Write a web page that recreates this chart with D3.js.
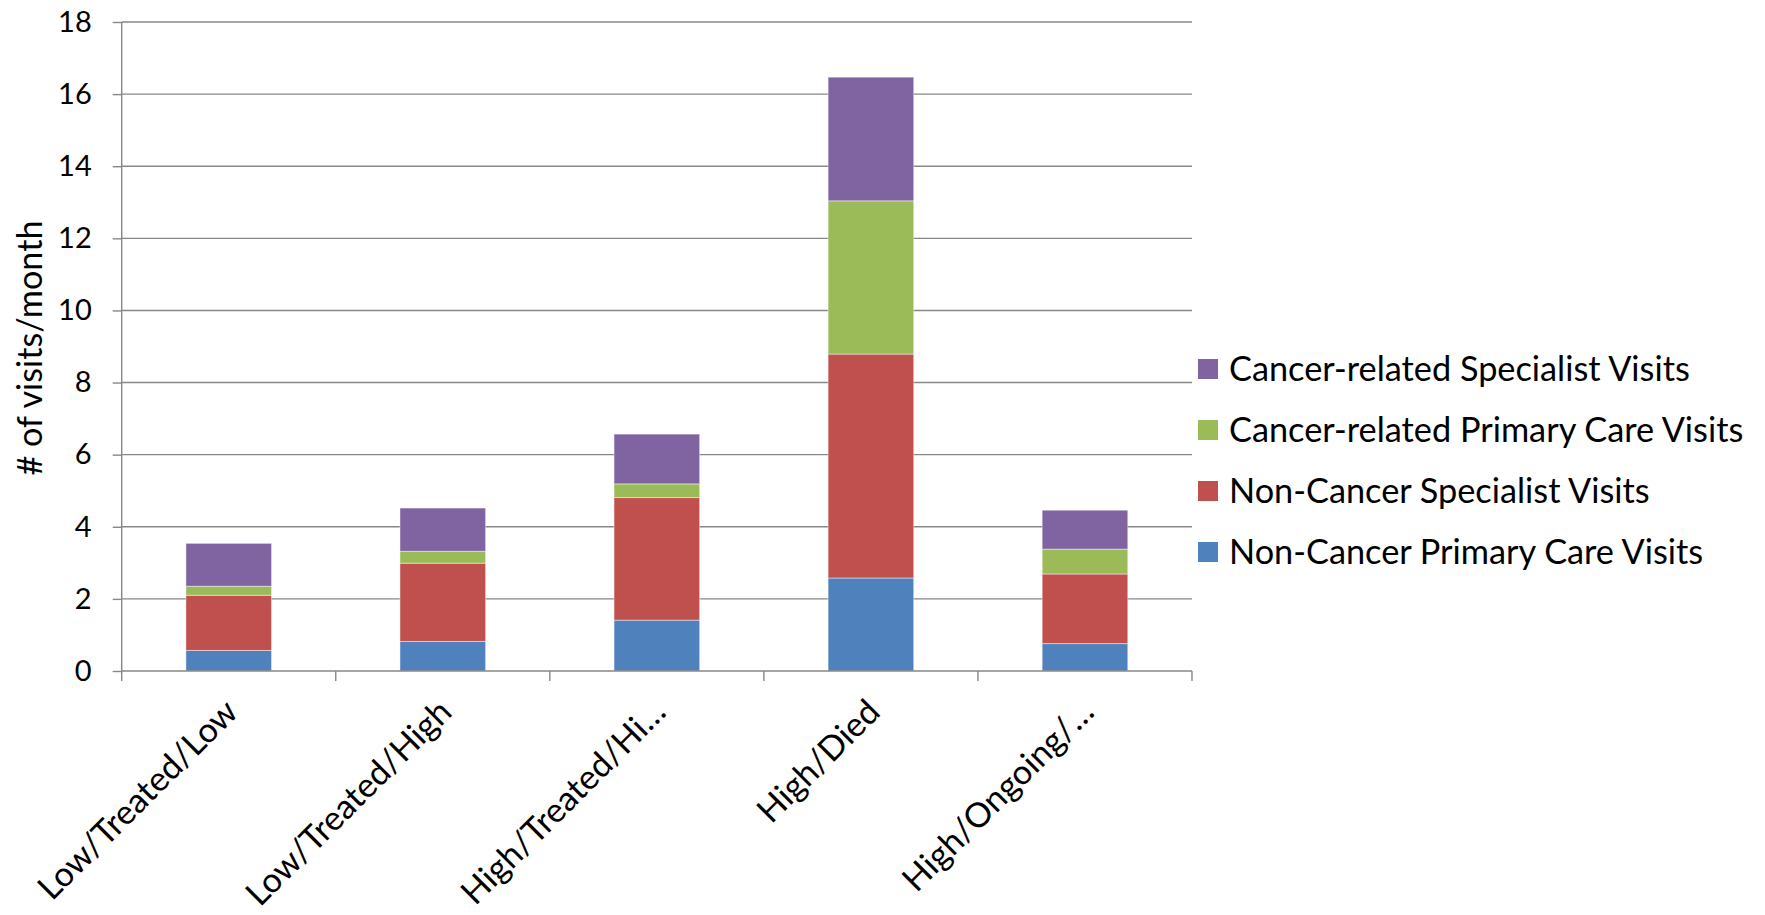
<!DOCTYPE html>
<html>
<head>
<meta charset="utf-8">
<script src="https://cdn.jsdelivr.net/npm/d3@7"></script>
<style>
  html, body { margin: 0; padding: 0; background: #fff; }
  svg { display: block; }
  text { font-family: Lato, "Open Sans", sans-serif; fill: #000; }
</style>
</head>
<body>
<script>
// Monthly visit counts per patient group, stacked by visit type
const categories = ["Low/Treated/Low", "Low/Treated/High", "High/Treated/Hi\u2026", "High/Died", "High/Ongoing/\u2026"];
const seriesNames = [
  "Non-Cancer Primary Care Visits",
  "Non-Cancer Specialist Visits",
  "Cancer-related Primary Care Visits",
  "Cancer-related Specialist Visits"
];
const nonCancerPrimary    = [0.57, 0.82, 1.41, 2.58, 0.76];
const nonCancerSpecialist = [1.53, 2.17, 3.40, 6.21, 1.93];
const cancerPrimary       = [0.25, 0.33, 0.38, 4.25, 0.69];
const cancerSpecialist    = [1.19, 1.20, 1.38, 3.43, 1.08];
const yTicks = [0, 2, 4, 6, 8, 10, 12, 14, 16, 18];
const yTitle = "# of visits/month";

const seriesValues = [nonCancerPrimary, nonCancerSpecialist, cancerPrimary, cancerSpecialist];
const colors = ["#4F81BD", "#C0504D", "#9BBB59", "#8064A2"];

const W = 1765, H = 915;
const plot = { left: 121.7, right: 1192, top: 22, bottom: 671 };

const svg = d3.select("body").append("svg").attr("width", W).attr("height", H);

const rows = categories.map((c, i) => {
  const r = { category: c };
  seriesNames.forEach((s, k) => { r[s] = seriesValues[k][i]; });
  return r;
});
const stacked = d3.stack().keys(seriesNames)(rows);

const x = d3.scaleBand().domain(categories).range([plot.left, plot.right]).paddingInner(0.6).paddingOuter(0.3);
const xOuter = d3.scaleBand().domain(categories).range([plot.left, plot.right]);
const y = d3.scaleLinear().domain([0, 18]).range([plot.bottom, plot.top]);

const gridColor = "#878787";

// horizontal gridlines
svg.append("g").selectAll("line").data(yTicks.filter(t => t > 0)).join("line")
  .attr("x1", plot.left).attr("x2", plot.right)
  .attr("y1", d => y(d)).attr("y2", d => y(d))
  .attr("stroke", gridColor).attr("stroke-width", 1.4);

// stacked bars
svg.append("g").selectAll("g").data(stacked).join("g")
  .attr("fill", (d, i) => colors[i])
  .selectAll("rect").data(d => d).join("rect")
  .attr("x", d => x(d.data.category))
  .attr("width", x.bandwidth())
  .attr("y", d => y(d[1]))
  .attr("height", d => y(d[0]) - y(d[1]))
  .attr("stroke", "rgba(255,255,255,0.45)").attr("stroke-width", 1);

// y axis
const yAxis = svg.append("g").attr("transform", `translate(${plot.left},0)`)
  .call(d3.axisLeft(y).tickValues(yTicks).tickSize(9).tickPadding(21).tickFormat(d3.format("d")));
yAxis.select(".domain").attr("stroke", gridColor).attr("stroke-width", 1.4).attr("d", `M0,${plot.top}V${plot.bottom}`);
yAxis.selectAll(".tick line").attr("stroke", gridColor).attr("stroke-width", 1.4);
yAxis.selectAll(".tick text").attr("font-size", 29).attr("font-family", "Lato, sans-serif").attr("fill", "#000");

// x axis: tick marks at category boundaries
const xg = svg.append("g");
xg.append("line").attr("x1", plot.left).attr("x2", plot.right)
  .attr("y1", plot.bottom).attr("y2", plot.bottom)
  .attr("stroke", gridColor).attr("stroke-width", 1.4);
const boundaries = categories.map(c => xOuter(c)).concat([plot.right]);
xg.selectAll("line.tick").data(boundaries).join("line").attr("class", "tick")
  .attr("x1", d => d).attr("x2", d => d)
  .attr("y1", plot.bottom).attr("y2", plot.bottom + 10)
  .attr("stroke", gridColor).attr("stroke-width", 1.4);
xg.selectAll("text").data(categories).join("text")
  .attr("transform", d => `translate(${xOuter(d) + xOuter.bandwidth() / 2 + 11},${plot.bottom + 43}) rotate(-45)`)
  .attr("text-anchor", "end")
  .attr("font-size", 34)
  .text(d => d);

// y axis title
svg.append("text")
  .attr("transform", `translate(42,348) rotate(-90)`)
  .attr("text-anchor", "middle")
  .attr("font-size", 34.2)
  .text(yTitle);

// legend, top entry is the top of the stack
const legendItems = seriesNames.map((s, i) => ({ name: s, color: colors[i] })).reverse();
const lg = svg.append("g").selectAll("g").data(legendItems).join("g")
  .attr("transform", (d, i) => `translate(1198,${369 + i * 61})`);
lg.append("rect").attr("x", 0).attr("y", -10).attr("width", 20).attr("height", 20).attr("fill", d => d.color);
lg.append("text").attr("x", 31).attr("y", 0).attr("dy", "0.36em").attr("font-size", 34.3).text(d => d.name);
</script>
</body>
</html>
